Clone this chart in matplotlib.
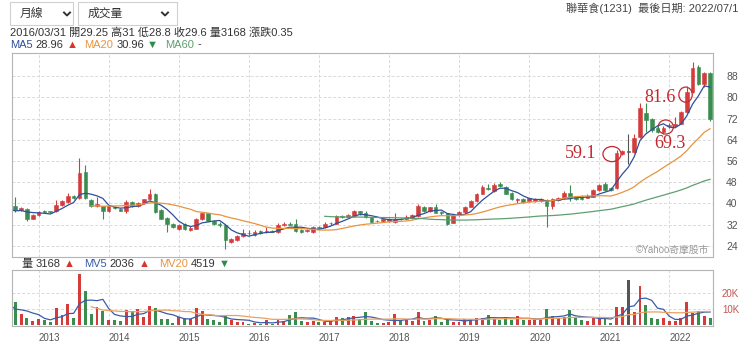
import matplotlib
matplotlib.use("Agg")
import matplotlib.pyplot as plt
import numpy as np
import pandas as pd
from matplotlib.patches import Ellipse, Rectangle
from matplotlib.lines import Line2D

plt.rcParams['font.family'] = ['Liberation Sans', 'Noto Sans CJK TC', 'DejaVu Sans']

# monthly bars Aug 2012 .. Jul 2022, bars dated at month end
# position 0 = Dec 2012 (sits on the 2013 year line)
first_pos = -4
years = [2013, 2014, 2015, 2016, 2017, 2018, 2019, 2020, 2021, 2022]

# hidden months Feb-Jul 2012, only used to start the moving averages
pre_close = [40.5, 40.0, 37.5, 37.0, 36.8, 37.2]
pre_volume = [30.0, 30.0, 9.0, 8.0, 9.0, 9.0]

opens = [39.1, 37.4, 37.8, 34.3, 35.6, 37.2, 37.0, 37.1, 39.4, 40.6,
         42.8, 41.9, 51.7, 41.2, 39.1, 38.9, 37.1, 38.7, 37.8, 37.2,
         40.6, 39.1, 40.0, 41.5, 43.4, 37.5, 34.6, 32.4, 30.2, 32.1,
         29.9, 30.5, 34.1, 36.2, 33.4, 32.4, 31.8, 25.3, 26.2, 27.7,
         29.0, 28.0, 29.5, 29.25, 29.6, 29.3, 31.9, 32.2, 32.1, 29.8,
         29.5, 29.3, 31.2, 31.0, 32.5, 32.4, 35.2, 35.0, 35.3, 37.0,
         36.5, 34.7, 33.5, 33.3, 33.3, 33.1, 34.2, 34.3, 34.6, 35.2,
         38.7, 37.1, 38.7, 36.8, 36.2, 32.8, 35.6, 36.6, 38.7, 40.9,
         43.7, 45.9, 44.6, 47.2, 46.3, 44.0, 41.2, 41.8, 41.0, 41.0,
         40.9, 41.2, 39.0, 41.2, 41.9, 43.8, 42.5, 42.5, 42.2, 42.5,
         45.0, 47.5, 45.9, 45.9, 58.8, 59.6, 59.5, 65.1, 73.9, 71.8,
         68.5, 66.8, 69.0, 69.3, 70.1, 74.5, 82.1, 91.5, 85.2, 89.0]
highs = [42.5, 38.6, 38.2, 36.0, 37.0, 37.5, 37.3, 41.2, 41.4, 44.0,
         43.2, 57.0, 54.4, 41.5, 42.5, 39.2, 39.3, 39.2, 38.2, 41.2,
         41.0, 40.5, 41.8, 45.3, 44.0, 37.8, 35.0, 32.8, 32.2, 32.5,
         31.3, 34.6, 36.5, 36.5, 33.8, 33.1, 32.3, 26.8, 28.2, 30.3,
         29.9, 29.9, 30.0, 31.0, 30.0, 32.6, 33.0, 33.1, 34.3, 30.2,
         30.2, 31.6, 31.6, 33.0, 33.1, 35.5, 35.8, 35.9, 37.5, 37.3,
         37.0, 35.0, 33.8, 34.3, 34.6, 36.2, 34.5, 35.5, 36.0, 39.8,
         39.0, 38.8, 39.6, 37.0, 36.5, 36.0, 37.2, 39.0, 41.2, 44.0,
         47.0, 47.3, 47.6, 47.9, 46.6, 44.3, 42.2, 42.0, 42.2, 41.9,
         41.9, 41.6, 42.0, 42.5, 44.5, 46.9, 42.9, 43.0, 43.4, 45.5,
         47.4, 47.9, 46.3, 60.0, 60.3, 66.0, 66.0, 78.0, 77.7, 72.2,
         69.0, 69.0, 70.4, 72.7, 75.0, 84.3, 93.4, 92.2, 89.5, 89.5]
lows = [36.8, 37.0, 33.4, 34.0, 35.3, 36.2, 36.4, 36.9, 39.2, 40.3,
        41.8, 41.5, 41.5, 38.8, 38.8, 34.3, 36.8, 37.8, 37.0, 36.2,
        38.8, 38.8, 39.8, 41.3, 36.5, 34.0, 29.3, 30.8, 29.9, 30.0,
        29.6, 30.2, 33.9, 33.2, 31.8, 31.2, 23.0, 25.0, 26.0, 27.4,
        28.1, 27.8, 28.6, 28.8, 29.1, 29.0, 31.5, 31.7, 29.3, 29.0,
        29.2, 29.0, 30.5, 30.8, 32.0, 32.2, 34.6, 34.7, 35.0, 35.8,
        34.4, 32.8, 32.9, 33.0, 33.0, 32.8, 33.7, 34.0, 34.3, 35.0,
        36.8, 36.8, 36.2, 35.8, 31.8, 32.5, 35.3, 36.3, 38.5, 40.6,
        43.5, 44.9, 44.3, 46.3, 43.4, 41.2, 40.2, 40.3, 40.7, 40.6,
        40.6, 31.2, 37.8, 40.8, 41.6, 41.0, 41.3, 41.2, 42.0, 42.3,
        44.8, 44.7, 44.6, 45.5, 58.3, 54.8, 59.0, 64.8, 67.0, 67.0,
        66.5, 66.3, 68.5, 68.8, 69.8, 74.0, 81.8, 84.5, 84.0, 71.0]
closes = [37.5, 38.1, 34.3, 35.6, 36.6, 36.8, 36.7, 39.4, 40.9, 42.8,
          42.0, 51.6, 41.9, 39.1, 39.6, 37.2, 38.9, 38.1, 37.3, 40.4,
          39.1, 40.2, 41.5, 43.5, 36.9, 34.3, 32.4, 31.2, 31.8, 30.2,
          30.9, 34.3, 36.2, 33.4, 32.1, 31.9, 26.2, 26.4, 27.9, 29.0,
          28.7, 29.1, 28.9, 29.6, 29.4, 31.8, 32.4, 32.0, 29.5, 29.4,
          29.9, 31.2, 30.9, 32.4, 32.7, 35.2, 35.0, 35.5, 37.2, 36.3,
          34.7, 33.1, 33.2, 34.0, 34.3, 34.3, 34.0, 35.0, 35.6, 39.0,
          37.2, 38.5, 36.5, 36.2, 32.4, 35.6, 36.8, 38.7, 40.9, 43.7,
          46.0, 45.4, 46.9, 46.6, 43.7, 41.5, 41.8, 40.6, 41.9, 41.6,
          41.5, 39.0, 41.5, 42.1, 44.1, 42.0, 41.6, 41.5, 42.8, 45.0,
          46.9, 45.0, 45.0, 59.1, 59.6, 59.6, 64.5, 75.8, 71.4, 67.6,
          66.8, 68.5, 69.5, 70.1, 74.5, 82.1, 90.9, 85.2, 89.0, 72.0]
# volume, thousand lots
volumes = [14.6, 7.0, 4.4, 2.7, 4.0, 3.4, 2.3, 10.5, 6.4, 13.2,
           4.4, 31.6, 21.1, 7.0, 11.5, 8.5, 3.4, 3.0, 2.5, 9.5,
           8.9, 9.9, 5.0, 12.1, 10.5, 4.0, 4.0, 1.7, 5.4, 4.8,
           3.8, 10.5, 8.5, 4.0, 3.4, 2.3, 6.4, 3.4, 2.3, 2.3,
           1.1, 1.3, 0.9, 3.2, 0.9, 3.4, 2.9, 6.4, 7.9, 2.7,
           2.3, 2.9, 2.3, 2.3, 2.7, 5.4, 4.4, 5.0, 5.8, 4.0,
           7.9, 2.7, 1.3, 1.7, 2.3, 7.0, 2.7, 4.0, 2.9, 7.9,
           2.7, 3.4, 6.0, 1.9, 3.4, 1.9, 2.3, 4.0, 4.0, 4.8,
           4.4, 6.4, 4.0, 3.4, 5.4, 3.4, 6.0, 3.4, 3.4, 3.4,
           3.4, 9.9, 5.8, 4.4, 5.4, 9.1, 4.4, 3.4, 2.7, 4.8,
           5.4, 4.8, 1.7, 11.1, 11.1, 27.9, 7.9, 23.8, 12.6, 4.4,
           4.0, 4.4, 2.7, 2.7, 4.4, 14.2, 7.4, 8.5, 6.0, 4.8]

# circled marks: value label, label anchor (pos, price), circle (pos, price, w, h)
marks = [("59.1", 92.9, 59.0, 98.2, 58.6, 3.1, 5.7),
         ("81.6", 106.4, 80.0, 110.8, 81.0, 2.3, 5.7),
         ("69.3", 108.1, 62.7, 107.4, 68.8, 2.6, 5.3)]

UP = '#d43c3c'
DOWN = '#3b8c4f'
FLAT = '#555555'
MA5_C = '#2f4f9c'
MA20_C = '#e8943f'
MA60_C = '#5f9f70'
GRID = '#d9d9d9'
TXT = '#333333'

W, H = 740, 345
def fx(x):
    return x / W
def fy(y):
    return 1 - y / H

pos = np.arange(first_pos, first_pos + len(closes))
o = np.array(opens); h = np.array(highs); l = np.array(lows); c = np.array(closes)
colors = np.where(c > o, UP, np.where(c < o, DOWN, FLAT))

all_close = pd.Series(pre_close + closes)
all_vol = pd.Series(pre_volume + volumes)
all_pos = np.arange(first_pos - len(pre_close), first_pos + len(closes))
ma5 = all_close.rolling(5).mean()
ma20 = all_close.rolling(20).mean()
ma60 = all_close.rolling(60).mean()
mv5 = all_vol.rolling(5).mean()
mv20 = all_vol.rolling(20).mean()

fig = plt.figure(figsize=(7.4, 3.45), dpi=100)
ax = fig.add_axes([fx(12), fy(257), fx(713) - fx(12), fy(53) - fy(257)])
axv = fig.add_axes([fx(12), fy(326), fx(713) - fx(12), fy(270) - fy(326)])

xlim = (-4.56, 115.5)
year_ticks = [12 * i for i in range(len(years))]

for a in (ax, axv):
    a.set_xlim(*xlim)
    for s in a.spines.values():
        s.set_color('#b4b4b4')
        s.set_linewidth(0.8)
    a.set_xticks(year_ticks)
    a.grid(True, color=GRID, linestyle=(0, (3, 2)), linewidth=0.7)
    a.set_axisbelow(True)
    a.yaxis.tick_right()
    a.tick_params(length=0, labelsize=7.5, colors='#555555', pad=9.5)

# candles
ax.vlines(pos, l, h, colors=colors, linewidth=0.8)
body_lo = np.minimum(o, c)
body_h = np.abs(c - o)
small = body_h < 0.3
body_lo = np.where(small, (o + c) / 2 - 0.15, body_lo)
body_h = np.where(small, 0.3, body_h)
ax.bar(pos, body_h, bottom=body_lo, width=0.62, color=colors, edgecolor=colors, linewidth=0.4)

ax.plot(all_pos, ma5, color=MA5_C, linewidth=0.9)
ax.plot(all_pos, ma20, color=MA20_C, linewidth=0.9)
ax.plot(all_pos, ma60, color=MA60_C, linewidth=0.9)

ax.set_ylim(19.8, 96.7)
ax.set_yticks(range(24, 89, 8))
ax.set_xticklabels([])

for lab, tx, ty, ex, ey, ew, eh in marks:
    ax.text(tx, ty, lab, family='Liberation Serif', fontsize=13, color='#c4262e',
            ha='center', va='center')
    ax.add_patch(Ellipse((ex, ey), ew, eh, fill=False, edgecolor='#c4262e', linewidth=0.9))

ax.text(0.995, 0.012, '©Yahoo奇摩股市', transform=ax.transAxes, ha='right', va='bottom',
        fontsize=7, color='#9a9a9a')

# volume
axv.bar(pos, volumes, width=0.5, color=colors, linewidth=0)
axv.plot(all_pos, mv5, color='#3a5ca8', linewidth=0.9)
axv.plot(all_pos, mv20, color='#eba060', linewidth=0.9)
axv.set_ylim(-0.4, 33.9)
axv.set_yticks([10, 20])
axv.set_yticklabels(['10K', '20K'])
axv.set_xticklabels([str(y) for y in years], ha='left')
axv.tick_params(axis='x', pad=5, labelsize=7)
axv.tick_params(axis='y', pad=6.5, labelsize=7, colors='#c0574f')

# header: dropdowns
for x0, x1, lab, chev in [(10, 73, '月線', 67), (78, 177, '成交量', 165)]:
    fig.patches.append(Rectangle((fx(x0), fy(25)), fx(x1) - fx(x0), fy(2) - fy(25),
                                 transform=fig.transFigure, facecolor='white',
                                 edgecolor='#d0d0d0', linewidth=0.8))
    fig.text(fx(x0 + 10), fy(14), lab, fontsize=8.5, color=TXT, va='center')
    fig.lines.append(Line2D([fx(chev - 3), fx(chev), fx(chev + 3)], [fy(12.5), fy(15.5), fy(12.5)],
                            transform=fig.transFigure, color=TXT, linewidth=1.4))

fig.text(fx(738), fy(8), '聯華食(1231)  最後日期: 2022/07/1', fontsize=8, color='#444444',
         ha='right', va='center')
fig.text(fx(10), fy(32.5), '2016/03/31 開29.25 高31 低28.8 收29.6 量3168 漲跌0.35',
         fontsize=8, color=TXT, va='center')

renderer = fig.canvas.get_renderer()

def text_run(x, y, parts, size):
    # place coloured pieces one after another, gap in pixels after each
    for t, col, gap in parts:
        txt = fig.text(fx(x), fy(y), t, fontsize=size, color=col, va='center')
        x += txt.get_window_extent(renderer=renderer).width + gap

text_run(10, 44.5, [('MA5', MA5_C, 3), ('28.96', TXT, 3), ('▲', '#d9342b', 7),
                    ('MA20', MA20_C, 3), ('30.96', TXT, 3), ('▼', '#2e8b4a', 7),
                    ('MA60', MA60_C, 3), ('-', TXT, 0)], 8)

text_run(21, 264, [('量', TXT, 3), ('3168', TXT, 4), ('▲', '#d9342b', 9),
                   ('MV5', '#3a5ca8', 3), ('2036', TXT, 4), ('▲', '#d9342b', 9),
                   ('MV20', MA20_C, 3), ('4519', TXT, 4), ('▼', '#2e8b4a', 0)], 8)

fig.savefig('out.png', dpi=100)
